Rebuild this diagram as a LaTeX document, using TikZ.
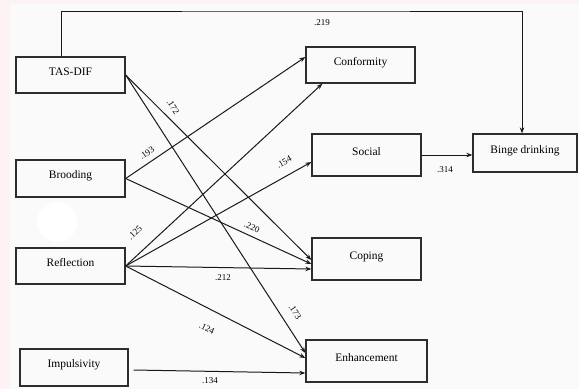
\documentclass[tikz,border=0pt]{standalone}
\usepackage{fontspec}
\setmainfont{Liberation Serif}
\usetikzlibrary{arrows.meta,calc}
\definecolor{pinkbg}{RGB}{253,243,245}
\definecolor{panelbg}{RGB}{250,250,250}
\definecolor{boxline}{RGB}{45,45,45}
\tikzset{
  boxnode/.style={draw=boxline, line width=1.3bp, rectangle, inner sep=0pt,
    text height=8bp, text depth=8bp, font=\fontsize{11.5}{13}\selectfont},
  conn/.style={line width=1bp, draw=black!90, -{Stealth[length=6bp,width=4.5bp]}},
  coef/.style={font=\fontsize{9}{10}\selectfont, inner sep=0pt}
}
\begin{document}
\begin{tikzpicture}[x=1bp,y=-1bp]
\useasboundingbox (0,0) rectangle (579,389);
\fill[pinkbg] (0,0) rectangle (579,389);
\fill[panelbg] (10,4) rectangle (579,389);
\fill[white] (57,222) circle (20);
% boxes
\node[boxnode, minimum width=109bp, minimum height=36bp] (tas) at (70.5,75) {TAS-DIF};
\node[boxnode, minimum width=109bp, minimum height=37bp] (brood) at (70.5,178.5) {Brooding};
\node[boxnode, minimum width=109bp, minimum height=36bp] (refl) at (70.5,266) {Reflection};
\node[boxnode, minimum width=108bp, minimum height=37bp] (imp) at (74,367.5) {Impulsivity};
\node[boxnode, minimum width=109bp, minimum height=36bp] (conf) at (360.5,65) {Conformity};
\node[boxnode, minimum width=109bp, minimum height=42bp] (soc) at (366.5,155) {Social};
\node[boxnode, minimum width=104bp, minimum height=38bp] (binge) at (525,153) {Binge drinking};
\node[boxnode, minimum width=109bp, minimum height=42bp] (cop) at (366.5,259) {Coping};
\node[boxnode, minimum width=121bp, minimum height=42bp] (enh) at (366.5,361) {Enhancement};
% top path
\coordinate (topmid) at (300,11);
\draw[conn] ($(tas.north)+(-9.5,0)$) |- (topmid) -| ($(binge.north)+(-3,0)$);
% connectors
\draw[conn] (tas.east) -- ($(cop.west)+(0,1)$);
\draw[conn] (tas.east) -- ($(enh.west)+(0,-8)$);
\draw[conn] (brood.east) -- ($(conf.west)+(0,-8)$);
\draw[conn] (brood.east) -- ($(cop.west)+(0,5)$);
\draw[conn] (refl.east) -- ($(conf.south west)+(17,0)$);
\draw[conn] (refl.east) -- ($(soc.west)+(0,7)$);
\draw[conn] (refl.east) -- ($(cop.west)+(0,10)$);
\draw[conn] (refl.east) -- ($(enh.west)+(0,-3)$);
\draw[conn] ($(imp.east)+(5,2.5)$) -- ($(enh.west)+(0,12)$);
\draw[conn] (soc.east) -- (soc.east -| binge.west);
% coefficients
\node[coef] (c219) at (322,23) {.219};
\node[coef, rotate=-57] (c172) at (173,107) {.172};
\node[coef, rotate=34] (c193) at (147,153) {.193};
\node[coef, rotate=29] (c154) at (284,162) {.154};
\node[coef, rotate=43] (c125) at (135,233) {.125};
\node[coef, rotate=-24] (c220) at (252,227) {.220};
\node[coef] (c212) at (223,278) {.212};
\node[coef, rotate=-27] (c124) at (207,328) {.124};
\node[coef, rotate=-57] (c173) at (295,312) {.173};
\node[coef] (c314) at (445,170) {.314};
\node[coef] (c134) at (210,381) {.134};
\end{tikzpicture}
\end{document}
